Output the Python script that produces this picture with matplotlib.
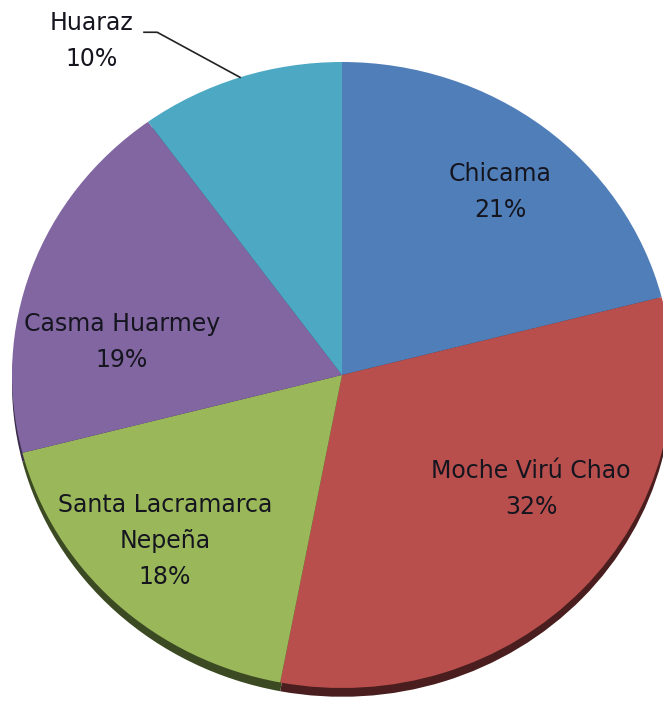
import matplotlib
matplotlib.use("Agg")
import matplotlib.pyplot as plt
import numpy as np

labels = ["Chicama", "Moche Virú Chao", "Santa Lacramarca\nNepeña", "Casma Huarmey", "Huaraz"]
shares = [21, 32, 18, 19, 10]
colors = ["#4F7EB8", "#B84F4C", "#9AB85A", "#8166A1", "#4DA9C3"]
shadow_colors = ["#26405e", "#4a1e1e", "#3b4a22", "#3a2d4a", "#225060"]

# pixel geometry of the reference (centre, radii) -> data units
W, H = 663, 710
CX, CY, RX, RY = 342, 375, 330, 313

fig = plt.figure(figsize=(W / 100, H / 100), dpi=100)
ax = fig.add_axes([0, 0, 1, 1])

# dark rim under the pie
ax.pie(shares, colors=shadow_colors, startangle=90, counterclock=False,
       center=(0, -0.028), wedgeprops=dict(linewidth=0))
wedges, _ = ax.pie(shares, colors=colors, startangle=90, counterclock=False,
                   wedgeprops=dict(linewidth=0))

ax.set_aspect("auto")
ax.set_xlim(-CX / RX, (W - CX) / RX)
ax.set_ylim(-(H - CY) / RY, CY / RY)
ax.axis("off")

text_kw = dict(ha="center", va="center", fontsize=17, color="#15151f",
               family="DejaVu Sans", linespacing=1.65)
positions = {
    "Chicama": (0.48, 0.585),
    "Moche Virú Chao": (0.573, -0.364),
    "Santa Lacramarca\nNepeña": (-0.536, -0.53),
    "Casma Huarmey": (-0.667, 0.105),
}
for label, share in zip(labels, shares):
    if label in positions:
        x, y = positions[label]
        ax.text(x, y, f"{label}\n{share}%", **text_kw)

# Huaraz label outside with leader line
w = wedges[4]
mid = np.deg2rad((w.theta1 + w.theta2) / 2)
ex, ey = np.cos(mid), np.sin(mid)
ax.plot([ex, -0.56, -0.6], [ey, 1.095, 1.095], color="#222222", lw=1.2)
ax.text(-0.76, 1.067, "Huaraz\n10%", **text_kw)

fig.savefig("out.png", dpi=100)
